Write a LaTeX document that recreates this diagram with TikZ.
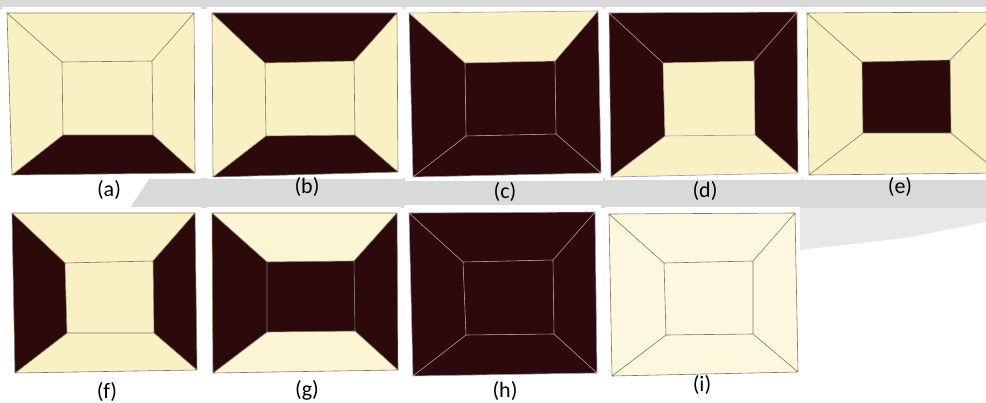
\documentclass[tikz,border=0pt]{standalone}
\usepackage{fontspec}
\setmainfont{Carlito}
\definecolor{cream}{RGB}{249,241,196}
\definecolor{creamg}{RGB}{251,245,212}
\definecolor{creami}{RGB}{253,248,221}
\definecolor{dark}{RGB}{44,10,11}
\definecolor{lnc}{RGB}{125,120,95}
\definecolor{lnd}{RGB}{170,150,150}
\definecolor{wm}{RGB}{217,217,217}
\definecolor{wml}{RGB}{232,232,232}
\newcommand\boxpanel[6]{%
  \fill[#1] (o1)--(o2)--(i2)--(i1)--cycle;
  \fill[#2] (o2)--(o3)--(i3)--(i2)--cycle;
  \fill[#3] (o3)--(o4)--(i4)--(i3)--cycle;
  \fill[#4] (o4)--(o1)--(i1)--(i4)--cycle;
  \fill[#5] (i1)--(i2)--(i3)--(i4)--cycle;
  \draw[#6,line width=0.6pt,line join=round]
    (o1)--(o2)--(o3)--(o4)--cycle
    (i1)--(i2)--(i3)--(i4)--cycle
    (o1)--(i1) (o2)--(i2) (o3)--(i3) (o4)--(i4);
}
\tikzset{lbl/.style={font=\fontsize{22}{24}\selectfont, text=black, inner sep=0pt},
  card/.style={fill=white}}
\begin{document}
\begin{tikzpicture}[x=1pt,y=-1pt]
\useasboundingbox (0,0) rectangle (986,403);
\fill[white] (0,0) rectangle (986,403);
% watermark bands
\fill[wm] (0,0) rectangle (986,9);
\fill[wm] (150,178) -- (986,178) -- (986,208) -- (130,208) -- cycle;
\fill[wml] (800,208) -- (986,208) -- (986,222) -- (905,238) -- (800,250) -- cycle;
% cards
\fill[card] (3,7) rectangle (201,179);
\fill[card] (207,7) rectangle (402,179);
\fill[card] (405,7) rectangle (603,181);
\fill[card] (605,7) rectangle (802,180);
\fill[card] (803,7) rectangle (986,180);
\fill[card] (3,207) rectangle (201,378);
\fill[card] (207,207) rectangle (401,377);
\fill[card] (404,205) rectangle (601,380);
\fill[card] (605,207) rectangle (800,381);

% (a)
\coordinate (o1) at (7,13); \coordinate (o2) at (194,13); \coordinate (o3) at (195,173); \coordinate (o4) at (12,175);
\coordinate (i1) at (62,62); \coordinate (i2) at (152,61); \coordinate (i3) at (153,135); \coordinate (i4) at (63,135);
\boxpanel{cream}{cream}{dark}{cream}{cream}{lnc}
\node[lbl] (la) at (109,190) {(a)};
% (b)
\coordinate (o1) at (212,13); \coordinate (o2) at (397,13); \coordinate (o3) at (398,172); \coordinate (o4) at (213,177);
\coordinate (i1) at (265,63); \coordinate (i2) at (354,61); \coordinate (i3) at (355,135); \coordinate (i4) at (266,136);
\boxpanel{dark}{cream}{dark}{cream}{cream}{lnc}
\node[lbl] (lb) at (307,187) {(b)};
% (c)
\coordinate (o1) at (409,13); \coordinate (o2) at (598,11); \coordinate (o3) at (601,173); \coordinate (o4) at (413,177);
\coordinate (i1) at (465,63); \coordinate (i2) at (555,61); \coordinate (i3) at (556,134); \coordinate (i4) at (466,136);
\boxpanel{cream}{dark}{dark}{dark}{dark}{lnd}
\node[lbl] (lc) at (505,192) {(c)};
% (d)
\coordinate (o1) at (609,13); \coordinate (o2) at (797,12); \coordinate (o3) at (798,173); \coordinate (o4) at (611,177);
\coordinate (i1) at (663,63); \coordinate (i2) at (754,61); \coordinate (i3) at (755,135); \coordinate (i4) at (665,136);
\boxpanel{dark}{dark}{cream}{dark}{cream}{lnd}
\node[lbl] (ld) at (705,191) {(d)};
% (e)
\coordinate (o1) at (807,13); \coordinate (o2) at (997,12); \coordinate (o3) at (999,173); \coordinate (o4) at (809,175);
\coordinate (i1) at (862,62); \coordinate (i2) at (950,60); \coordinate (i3) at (951,133); \coordinate (i4) at (863,133);
\boxpanel{cream}{cream}{cream}{cream}{dark}{lnc}
\node[lbl] (le) at (900,187) {(e)};
% (f)
\coordinate (o1) at (12,213); \coordinate (o2) at (195,213); \coordinate (o3) at (197,370); \coordinate (o4) at (15,373);
\coordinate (i1) at (65,263); \coordinate (i2) at (153,261); \coordinate (i3) at (154,333); \coordinate (i4) at (67,333);
\boxpanel{cream}{dark}{cream}{dark}{cream}{lnc}
\node[lbl] (lf) at (107,392) {(f)};
% (g)
\coordinate (o1) at (212,213); \coordinate (o2) at (397,213); \coordinate (o3) at (398,370); \coordinate (o4) at (213,373);
\coordinate (i1) at (267,262); \coordinate (i2) at (354,261); \coordinate (i3) at (355,331); \coordinate (i4) at (267,332);
\boxpanel{creamg}{dark}{creamg}{dark}{dark}{lnc}
\node[lbl] (lg) at (307,390) {(g)};
% (h)
\coordinate (o1) at (409,213); \coordinate (o2) at (595,212); \coordinate (o3) at (597,373); \coordinate (o4) at (413,376);
\coordinate (i1) at (463,262); \coordinate (i2) at (553,260); \coordinate (i3) at (554,334); \coordinate (i4) at (466,335);
\boxpanel{dark}{dark}{dark}{dark}{dark}{lnd}
\node[lbl] (lh) at (505,391) {(h)};
% (i)
\coordinate (o1) at (609,214); \coordinate (o2) at (795,213); \coordinate (o3) at (798,372); \coordinate (o4) at (612,376);
\coordinate (i1) at (664,263); \coordinate (i2) at (753,261); \coordinate (i3) at (753,334); \coordinate (i4) at (666,335);
\boxpanel{creami}{creami}{creami}{creami}{creami}{lnc}
\node[lbl] (li) at (702,385) {(i)};
\end{tikzpicture}
\end{document}
